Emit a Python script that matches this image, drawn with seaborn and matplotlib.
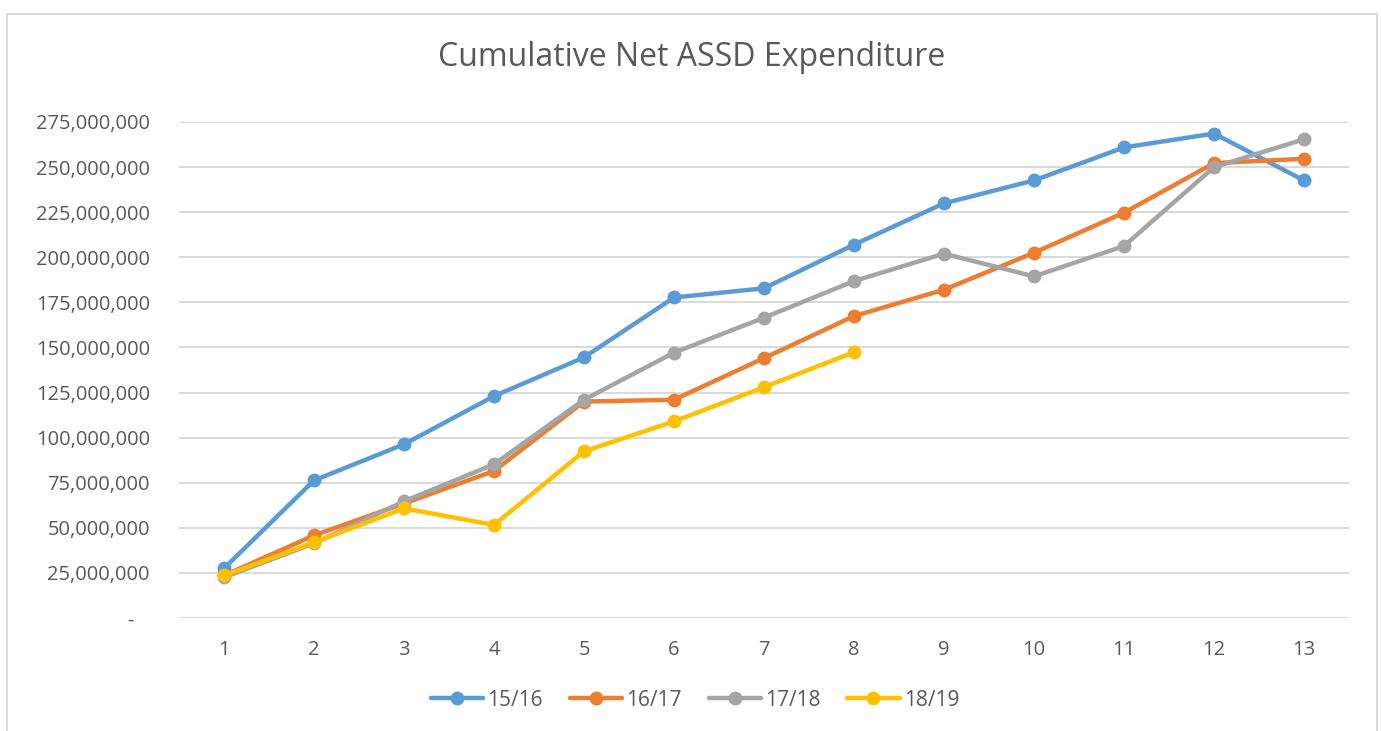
import matplotlib
matplotlib.use("Agg")
import matplotlib.pyplot as plt
from matplotlib.ticker import FuncFormatter, MultipleLocator
from matplotlib.patches import Rectangle
import seaborn as sns
import pandas as pd

# data
periods = list(range(1, 14))
exp_1516 = [27.5, 76.3, 96.3, 123.0, 144.5, 177.7, 182.8, 207.0, 229.9, 242.6, 260.9, 268.6, 242.6]
exp_1617 = [23.6, 45.8, 63.5, 81.5, 120.0, 121.0, 144.1, 167.4, 182.0, 202.5, 224.7, 252.2, 254.6]
exp_1718 = [22.5, 41.4, 64.7, 85.2, 121.0, 147.1, 166.5, 186.8, 202.0, 189.4, 206.2, 250.0, 265.4]
exp_1819 = [23.6, 41.9, 60.8, 51.6, 92.4, 109.0, 128.0, 147.4]
years = ["15/16", "16/17", "17/18", "18/19"]
colors = ["#5B9BD5", "#ED7D31", "#A5A5A5", "#FFC000"]

rows = []
for yr, vals in zip(years, [exp_1516, exp_1617, exp_1718, exp_1819]):
    for p, v in zip(periods, vals):
        rows.append({"period": p, "value": v * 1e6, "year": yr})
df = pd.DataFrame(rows)

sns.set_style("white")
plt.rcParams["font.family"] = ["Open Sans", "DejaVu Sans"]
text_col = "#595959"
grid_col = "#D9D9D9"

fig = plt.figure(figsize=(13.81, 7.31), dpi=100)
ax = fig.add_axes([179 / 1381, 1 - 618 / 731, (1349 - 179) / 1381, (618 - 122) / 731])

sns.lineplot(data=df, x="period", y="value", hue="year", hue_order=years,
             palette=colors, marker="o", markersize=10, markeredgewidth=0,
             linewidth=3.2, ax=ax)

ax.set_xlim(0.5, 13.5)
ax.set_ylim(0, 275e6)
ax.set_xticks(periods)
ax.yaxis.set_major_locator(MultipleLocator(25e6))
ax.yaxis.set_major_formatter(FuncFormatter(lambda v, pos: f"{v:,.0f}" if v > 0 else "-   "))
ax.grid(axis="y", color=grid_col, linewidth=1.4)
ax.set_axisbelow(True)
for s in ax.spines.values():
    s.set_visible(False)
ax.tick_params(axis="y", length=0, pad=21, labelsize=14.5, labelcolor=text_col)
ax.tick_params(axis="x", length=0, pad=16, labelsize=14.5, labelcolor=text_col)
ax.set_xlabel("")
ax.set_ylabel("")

handles, labels = ax.get_legend_handles_labels()
ax.get_legend().remove()
fig.legend(handles, labels, loc="center", bbox_to_anchor=(695 / 1381, 1 - 700 / 731),
           ncol=4, frameon=False, fontsize=15, labelcolor=text_col,
           handlelength=2.5, handletextpad=0.2, columnspacing=1.3)

fig.text(692 / 1381, 1 - 58 / 731, "Cumulative Net ASSD Expenditure",
         ha="center", va="center", fontsize=23, color=text_col)

fig.patches.append(Rectangle((7 / 1381, -0.05), (1377 - 7) / 1381, 1.05 - 14 / 731,
                             transform=fig.transFigure, fill=False,
                             edgecolor=grid_col, linewidth=1.5))

fig.savefig("out.png", dpi=100)
